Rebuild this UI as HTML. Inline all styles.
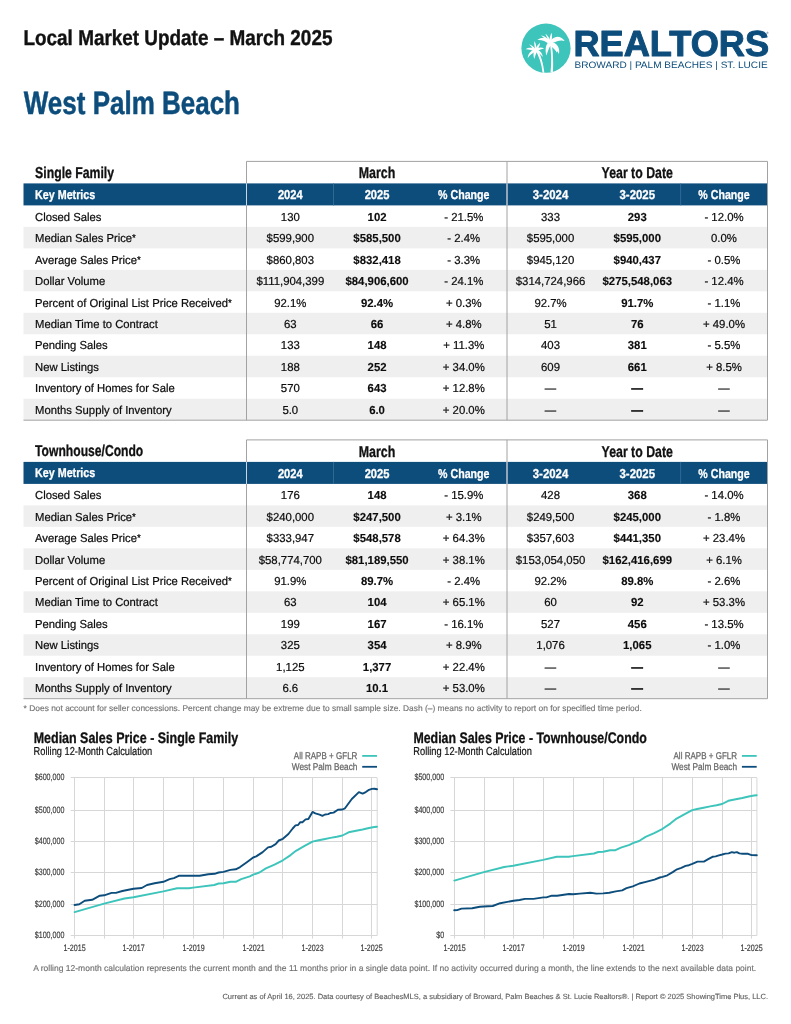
<!DOCTYPE html>
<html lang="en">
<head>
<meta charset="utf-8">
<title>Local Market Update – March 2025 – West Palm Beach</title>
<style>
html,body{margin:0;padding:0;background:#fff}
body{width:791px;height:1024px;overflow:hidden}
svg{display:block;will-change:transform;font-family:"Liberation Sans",sans-serif}
text{white-space:pre;text-rendering:geometricPrecision}
</style>
</head>
<body>
<svg width="791" height="1024" viewBox="0 0 791 1024">
<rect width="791" height="1024" fill="#fff"/>
<text transform="translate(23.50 44.50) scale(0.8755 1)" font-size="21.6" font-weight="700" fill="#111" stroke="#111" stroke-width="0.4" stroke-linejoin="round">Local Market Update – March 2025</text>
<text transform="translate(23.80 114.30) scale(0.8047 1)" font-size="32.3" font-weight="700" fill="#0d4d7c" stroke="#0d4d7c" stroke-width="0.5" stroke-linejoin="round">West Palm Beach</text>
<circle cx="546.0" cy="48.2" r="24.6" fill="#3dc4bb"/>
<clipPath id="lc"><circle cx="546" cy="48.2" r="24.6"/></clipPath><g clip-path="url(#lc)"><g transform="translate(521.0 23.0) scale(0.06321)" fill="#fff"><path d="M466 792C482 650 484 470 452 310L480 300C512 470 512 650 504 792Z"/><path d="M455 305C500 215 610 175 692 286C640 262 560 280 470 330Z"/><path d="M470 300C560 300 625 390 600 492C570 430 520 390 462 350Z"/><path d="M500 330C560 360 580 420 570 470C540 420 500 390 470 360Z"/><path d="M462 290C400 300 370 420 404 516C420 450 440 400 476 340Z"/><path d="M470 300C420 215 330 215 258 268C330 262 390 290 450 330Z"/><path d="M465 300C430 240 370 200 314 196C370 230 410 270 440 320Z"/><path d="M470 300C455 240 420 195 384 172C410 220 425 265 440 310Z"/><path d="M452 300C450 240 462 190 486 154C492 200 490 250 482 305Z"/><path d="M222 425C286 520 326 650 342 792L370 792C354 640 316 500 248 410Z"/><path d="M222 420C215 370 205 330 214 286C235 330 245 370 246 415Z"/><path d="M235 425C200 370 165 345 126 336C160 370 190 400 215 440Z"/><path d="M240 420C180 385 120 385 74 416C130 420 180 435 225 450Z"/><path d="M240 410C170 420 110 480 106 556C140 500 190 470 245 450Z"/><path d="M222 420C190 470 190 520 212 570C225 520 240 480 260 440Z"/><path d="M225 415C290 420 340 470 344 536C310 490 270 465 230 450Z"/><path d="M225 420C270 380 330 375 366 406C320 410 280 425 240 450Z"/><path d="M225 425C245 370 275 335 304 312C295 360 275 400 250 440Z"/></g></g>
<text transform="translate(573.40 55.90) scale(1.0002 1)" font-size="36.2" font-weight="700" fill="#0d4d7c" stroke="#0d4d7c" stroke-width="1.0" stroke-linejoin="round">REALTORS</text>
<text transform="translate(574.50 67.90) scale(1.0826 1)" font-size="9.3" fill="#0d4d7c">BROWARD | PALM BEACHES | ST. LUCIE</text>
<text transform="translate(766.20 33.50)" font-size="3.2" fill="#0d4d7c">®</text>
<rect x="23.5" y="226.88" width="744.0" height="21.48" fill="#efefef"/>
<rect x="23.5" y="269.84" width="744.0" height="21.48" fill="#efefef"/>
<rect x="23.5" y="312.80" width="744.0" height="21.48" fill="#efefef"/>
<rect x="23.5" y="355.76" width="744.0" height="21.48" fill="#efefef"/>
<rect x="23.5" y="398.72" width="744.0" height="21.48" fill="#efefef"/>
<rect x="23.5" y="183.40" width="744.0" height="22.00" fill="#0d4d7c"/>
<line x1="333.5" y1="183.40" x2="333.5" y2="205.40" stroke="#3a7099" stroke-width="0.8"/>
<line x1="680.6" y1="183.40" x2="680.6" y2="205.40" stroke="#3a7099" stroke-width="0.8"/>
<path d="M246.5 420.20V161.40H767.5V420.20M507.0 161.40V420.20M23.5 420.20H767.5" fill="none" stroke="#a2a2a2" stroke-width="1"/>
<line x1="246.5" y1="183.40" x2="246.5" y2="205.40" stroke="#c9d6e0" stroke-width="1"/>
<line x1="507.0" y1="183.40" x2="507.0" y2="205.40" stroke="#c9d6e0" stroke-width="1"/>
<text transform="translate(35.10 177.80) scale(0.7756 1)" font-size="15.8" font-weight="700" fill="#111" stroke="#111" stroke-width="0.3" stroke-linejoin="round">Single Family</text>
<text transform="translate(377.04 178.10) scale(0.7865 1)" font-size="15.8" font-weight="700" text-anchor="middle" fill="#111" stroke="#111" stroke-width="0.3" stroke-linejoin="round">March</text>
<text transform="translate(637.26 178.10) scale(0.7807 1)" font-size="15.8" font-weight="700" text-anchor="middle" fill="#111" stroke="#111" stroke-width="0.3" stroke-linejoin="round">Year to Date</text>
<text transform="translate(35.10 198.80) scale(0.8313 1)" font-size="12.9" font-weight="700" fill="#fff" stroke="#fff" stroke-width="0.3" stroke-linejoin="round">Key Metrics</text>
<text transform="translate(290.30 199.00) scale(0.8642 1)" font-size="12.9" font-weight="700" text-anchor="middle" fill="#fff" stroke="#fff" stroke-width="0.3" stroke-linejoin="round">2024</text>
<text transform="translate(377.04 199.00) scale(0.8642 1)" font-size="12.9" font-weight="700" text-anchor="middle" fill="#fff" stroke="#fff" stroke-width="0.3" stroke-linejoin="round">2025</text>
<text transform="translate(463.78 199.00) scale(0.8243 1)" font-size="12.9" font-weight="700" text-anchor="middle" fill="#fff" stroke="#fff" stroke-width="0.3" stroke-linejoin="round">% Change</text>
<text transform="translate(550.52 199.00) scale(0.8838 1)" font-size="12.9" font-weight="700" text-anchor="middle" fill="#fff" stroke="#fff" stroke-width="0.3" stroke-linejoin="round">3-2024</text>
<text transform="translate(637.26 199.00) scale(0.8838 1)" font-size="12.9" font-weight="700" text-anchor="middle" fill="#fff" stroke="#fff" stroke-width="0.3" stroke-linejoin="round">3-2025</text>
<text transform="translate(724.00 199.00) scale(0.8243 1)" font-size="12.9" font-weight="700" text-anchor="middle" fill="#fff" stroke="#fff" stroke-width="0.3" stroke-linejoin="round">% Change</text>
<text transform="translate(35.00 220.95) scale(0.9720 1)" font-size="11.6" fill="#0c0c0c" stroke="#0c0c0c" stroke-width="0.22" stroke-linejoin="round">Closed Sales</text>
<text transform="translate(290.30 220.95) scale(0.9800 1)" font-size="11.6" text-anchor="middle" fill="#0c0c0c" stroke="#0c0c0c" stroke-width="0.22" stroke-linejoin="round">130</text>
<text transform="translate(377.04 220.95) scale(0.9800 1)" font-size="11.6" font-weight="700" text-anchor="middle" fill="#0c0c0c" stroke="#0c0c0c" stroke-width="0.12" stroke-linejoin="round">102</text>
<text transform="translate(463.78 220.95) scale(0.9800 1)" font-size="11.6" text-anchor="middle" fill="#0c0c0c" stroke="#0c0c0c" stroke-width="0.22" stroke-linejoin="round">- 21.5%</text>
<text transform="translate(550.52 220.95) scale(0.9800 1)" font-size="11.6" text-anchor="middle" fill="#0c0c0c" stroke="#0c0c0c" stroke-width="0.22" stroke-linejoin="round">333</text>
<text transform="translate(637.26 220.95) scale(0.9800 1)" font-size="11.6" font-weight="700" text-anchor="middle" fill="#0c0c0c" stroke="#0c0c0c" stroke-width="0.12" stroke-linejoin="round">293</text>
<text transform="translate(724.00 220.95) scale(0.9800 1)" font-size="11.6" text-anchor="middle" fill="#0c0c0c" stroke="#0c0c0c" stroke-width="0.22" stroke-linejoin="round">- 12.0%</text>
<text transform="translate(35.00 242.35) scale(0.9720 1)" font-size="11.6" fill="#0c0c0c" stroke="#0c0c0c" stroke-width="0.22" stroke-linejoin="round">Median Sales Price<tspan font-size="10.0" dy="-0.9">*</tspan></text>
<text transform="translate(290.30 242.35) scale(0.9800 1)" font-size="11.6" text-anchor="middle" fill="#0c0c0c" stroke="#0c0c0c" stroke-width="0.22" stroke-linejoin="round">$599,900</text>
<text transform="translate(377.04 242.35) scale(0.9800 1)" font-size="11.6" font-weight="700" text-anchor="middle" fill="#0c0c0c" stroke="#0c0c0c" stroke-width="0.12" stroke-linejoin="round">$585,500</text>
<text transform="translate(463.78 242.35) scale(0.9800 1)" font-size="11.6" text-anchor="middle" fill="#0c0c0c" stroke="#0c0c0c" stroke-width="0.22" stroke-linejoin="round">- 2.4%</text>
<text transform="translate(550.52 242.35) scale(0.9800 1)" font-size="11.6" text-anchor="middle" fill="#0c0c0c" stroke="#0c0c0c" stroke-width="0.22" stroke-linejoin="round">$595,000</text>
<text transform="translate(637.26 242.35) scale(0.9800 1)" font-size="11.6" font-weight="700" text-anchor="middle" fill="#0c0c0c" stroke="#0c0c0c" stroke-width="0.12" stroke-linejoin="round">$595,000</text>
<text transform="translate(724.00 242.35) scale(0.9800 1)" font-size="11.6" text-anchor="middle" fill="#0c0c0c" stroke="#0c0c0c" stroke-width="0.22" stroke-linejoin="round">0.0%</text>
<text transform="translate(35.00 263.75) scale(0.9720 1)" font-size="11.6" fill="#0c0c0c" stroke="#0c0c0c" stroke-width="0.22" stroke-linejoin="round">Average Sales Price<tspan font-size="10.0" dy="-0.9">*</tspan></text>
<text transform="translate(290.30 263.75) scale(0.9800 1)" font-size="11.6" text-anchor="middle" fill="#0c0c0c" stroke="#0c0c0c" stroke-width="0.22" stroke-linejoin="round">$860,803</text>
<text transform="translate(377.04 263.75) scale(0.9800 1)" font-size="11.6" font-weight="700" text-anchor="middle" fill="#0c0c0c" stroke="#0c0c0c" stroke-width="0.12" stroke-linejoin="round">$832,418</text>
<text transform="translate(463.78 263.75) scale(0.9800 1)" font-size="11.6" text-anchor="middle" fill="#0c0c0c" stroke="#0c0c0c" stroke-width="0.22" stroke-linejoin="round">- 3.3%</text>
<text transform="translate(550.52 263.75) scale(0.9800 1)" font-size="11.6" text-anchor="middle" fill="#0c0c0c" stroke="#0c0c0c" stroke-width="0.22" stroke-linejoin="round">$945,120</text>
<text transform="translate(637.26 263.75) scale(0.9800 1)" font-size="11.6" font-weight="700" text-anchor="middle" fill="#0c0c0c" stroke="#0c0c0c" stroke-width="0.12" stroke-linejoin="round">$940,437</text>
<text transform="translate(724.00 263.75) scale(0.9800 1)" font-size="11.6" text-anchor="middle" fill="#0c0c0c" stroke="#0c0c0c" stroke-width="0.22" stroke-linejoin="round">- 0.5%</text>
<text transform="translate(35.00 285.15) scale(0.9720 1)" font-size="11.6" fill="#0c0c0c" stroke="#0c0c0c" stroke-width="0.22" stroke-linejoin="round">Dollar Volume</text>
<text transform="translate(290.30 285.15) scale(0.9800 1)" font-size="11.6" text-anchor="middle" fill="#0c0c0c" stroke="#0c0c0c" stroke-width="0.22" stroke-linejoin="round">$111,904,399</text>
<text transform="translate(377.04 285.15) scale(0.9800 1)" font-size="11.6" font-weight="700" text-anchor="middle" fill="#0c0c0c" stroke="#0c0c0c" stroke-width="0.12" stroke-linejoin="round">$84,906,600</text>
<text transform="translate(463.78 285.15) scale(0.9800 1)" font-size="11.6" text-anchor="middle" fill="#0c0c0c" stroke="#0c0c0c" stroke-width="0.22" stroke-linejoin="round">- 24.1%</text>
<text transform="translate(550.52 285.15) scale(0.9800 1)" font-size="11.6" text-anchor="middle" fill="#0c0c0c" stroke="#0c0c0c" stroke-width="0.22" stroke-linejoin="round">$314,724,966</text>
<text transform="translate(637.26 285.15) scale(0.9800 1)" font-size="11.6" font-weight="700" text-anchor="middle" fill="#0c0c0c" stroke="#0c0c0c" stroke-width="0.12" stroke-linejoin="round">$275,548,063</text>
<text transform="translate(724.00 285.15) scale(0.9800 1)" font-size="11.6" text-anchor="middle" fill="#0c0c0c" stroke="#0c0c0c" stroke-width="0.22" stroke-linejoin="round">- 12.4%</text>
<text transform="translate(35.00 306.55) scale(0.9720 1)" font-size="11.6" fill="#0c0c0c" stroke="#0c0c0c" stroke-width="0.22" stroke-linejoin="round">Percent of Original List Price Received<tspan font-size="10.0" dy="-0.9">*</tspan></text>
<text transform="translate(290.30 306.55) scale(0.9800 1)" font-size="11.6" text-anchor="middle" fill="#0c0c0c" stroke="#0c0c0c" stroke-width="0.22" stroke-linejoin="round">92.1%</text>
<text transform="translate(377.04 306.55) scale(0.9800 1)" font-size="11.6" font-weight="700" text-anchor="middle" fill="#0c0c0c" stroke="#0c0c0c" stroke-width="0.12" stroke-linejoin="round">92.4%</text>
<text transform="translate(463.78 306.55) scale(0.9800 1)" font-size="11.6" text-anchor="middle" fill="#0c0c0c" stroke="#0c0c0c" stroke-width="0.22" stroke-linejoin="round">+ 0.3%</text>
<text transform="translate(550.52 306.55) scale(0.9800 1)" font-size="11.6" text-anchor="middle" fill="#0c0c0c" stroke="#0c0c0c" stroke-width="0.22" stroke-linejoin="round">92.7%</text>
<text transform="translate(637.26 306.55) scale(0.9800 1)" font-size="11.6" font-weight="700" text-anchor="middle" fill="#0c0c0c" stroke="#0c0c0c" stroke-width="0.12" stroke-linejoin="round">91.7%</text>
<text transform="translate(724.00 306.55) scale(0.9800 1)" font-size="11.6" text-anchor="middle" fill="#0c0c0c" stroke="#0c0c0c" stroke-width="0.22" stroke-linejoin="round">- 1.1%</text>
<text transform="translate(35.00 327.95) scale(0.9720 1)" font-size="11.6" fill="#0c0c0c" stroke="#0c0c0c" stroke-width="0.22" stroke-linejoin="round">Median Time to Contract</text>
<text transform="translate(290.30 327.95) scale(0.9800 1)" font-size="11.6" text-anchor="middle" fill="#0c0c0c" stroke="#0c0c0c" stroke-width="0.22" stroke-linejoin="round">63</text>
<text transform="translate(377.04 327.95) scale(0.9800 1)" font-size="11.6" font-weight="700" text-anchor="middle" fill="#0c0c0c" stroke="#0c0c0c" stroke-width="0.12" stroke-linejoin="round">66</text>
<text transform="translate(463.78 327.95) scale(0.9800 1)" font-size="11.6" text-anchor="middle" fill="#0c0c0c" stroke="#0c0c0c" stroke-width="0.22" stroke-linejoin="round">+ 4.8%</text>
<text transform="translate(550.52 327.95) scale(0.9800 1)" font-size="11.6" text-anchor="middle" fill="#0c0c0c" stroke="#0c0c0c" stroke-width="0.22" stroke-linejoin="round">51</text>
<text transform="translate(637.26 327.95) scale(0.9800 1)" font-size="11.6" font-weight="700" text-anchor="middle" fill="#0c0c0c" stroke="#0c0c0c" stroke-width="0.12" stroke-linejoin="round">76</text>
<text transform="translate(724.00 327.95) scale(0.9800 1)" font-size="11.6" text-anchor="middle" fill="#0c0c0c" stroke="#0c0c0c" stroke-width="0.22" stroke-linejoin="round">+ 49.0%</text>
<text transform="translate(35.00 349.35) scale(0.9720 1)" font-size="11.6" fill="#0c0c0c" stroke="#0c0c0c" stroke-width="0.22" stroke-linejoin="round">Pending Sales</text>
<text transform="translate(290.30 349.35) scale(0.9800 1)" font-size="11.6" text-anchor="middle" fill="#0c0c0c" stroke="#0c0c0c" stroke-width="0.22" stroke-linejoin="round">133</text>
<text transform="translate(377.04 349.35) scale(0.9800 1)" font-size="11.6" font-weight="700" text-anchor="middle" fill="#0c0c0c" stroke="#0c0c0c" stroke-width="0.12" stroke-linejoin="round">148</text>
<text transform="translate(463.78 349.35) scale(0.9800 1)" font-size="11.6" text-anchor="middle" fill="#0c0c0c" stroke="#0c0c0c" stroke-width="0.22" stroke-linejoin="round">+ 11.3%</text>
<text transform="translate(550.52 349.35) scale(0.9800 1)" font-size="11.6" text-anchor="middle" fill="#0c0c0c" stroke="#0c0c0c" stroke-width="0.22" stroke-linejoin="round">403</text>
<text transform="translate(637.26 349.35) scale(0.9800 1)" font-size="11.6" font-weight="700" text-anchor="middle" fill="#0c0c0c" stroke="#0c0c0c" stroke-width="0.12" stroke-linejoin="round">381</text>
<text transform="translate(724.00 349.35) scale(0.9800 1)" font-size="11.6" text-anchor="middle" fill="#0c0c0c" stroke="#0c0c0c" stroke-width="0.22" stroke-linejoin="round">- 5.5%</text>
<text transform="translate(35.00 370.75) scale(0.9720 1)" font-size="11.6" fill="#0c0c0c" stroke="#0c0c0c" stroke-width="0.22" stroke-linejoin="round">New Listings</text>
<text transform="translate(290.30 370.75) scale(0.9800 1)" font-size="11.6" text-anchor="middle" fill="#0c0c0c" stroke="#0c0c0c" stroke-width="0.22" stroke-linejoin="round">188</text>
<text transform="translate(377.04 370.75) scale(0.9800 1)" font-size="11.6" font-weight="700" text-anchor="middle" fill="#0c0c0c" stroke="#0c0c0c" stroke-width="0.12" stroke-linejoin="round">252</text>
<text transform="translate(463.78 370.75) scale(0.9800 1)" font-size="11.6" text-anchor="middle" fill="#0c0c0c" stroke="#0c0c0c" stroke-width="0.22" stroke-linejoin="round">+ 34.0%</text>
<text transform="translate(550.52 370.75) scale(0.9800 1)" font-size="11.6" text-anchor="middle" fill="#0c0c0c" stroke="#0c0c0c" stroke-width="0.22" stroke-linejoin="round">609</text>
<text transform="translate(637.26 370.75) scale(0.9800 1)" font-size="11.6" font-weight="700" text-anchor="middle" fill="#0c0c0c" stroke="#0c0c0c" stroke-width="0.12" stroke-linejoin="round">661</text>
<text transform="translate(724.00 370.75) scale(0.9800 1)" font-size="11.6" text-anchor="middle" fill="#0c0c0c" stroke="#0c0c0c" stroke-width="0.22" stroke-linejoin="round">+ 8.5%</text>
<text transform="translate(35.00 392.15) scale(0.9720 1)" font-size="11.6" fill="#0c0c0c" stroke="#0c0c0c" stroke-width="0.22" stroke-linejoin="round">Inventory of Homes for Sale</text>
<text transform="translate(290.30 392.15) scale(0.9800 1)" font-size="11.6" text-anchor="middle" fill="#0c0c0c" stroke="#0c0c0c" stroke-width="0.22" stroke-linejoin="round">570</text>
<text transform="translate(377.04 392.15) scale(0.9800 1)" font-size="11.6" font-weight="700" text-anchor="middle" fill="#0c0c0c" stroke="#0c0c0c" stroke-width="0.12" stroke-linejoin="round">643</text>
<text transform="translate(463.78 392.15) scale(0.9800 1)" font-size="11.6" text-anchor="middle" fill="#0c0c0c" stroke="#0c0c0c" stroke-width="0.22" stroke-linejoin="round">+ 12.8%</text>
<text transform="translate(550.52 392.15) scale(0.9800 1)" font-size="11.6" text-anchor="middle" fill="#0c0c0c" stroke="#0c0c0c" stroke-width="0.22" stroke-linejoin="round">—</text>
<text transform="translate(637.26 392.15) scale(0.9800 1)" font-size="11.6" font-weight="700" text-anchor="middle" fill="#0c0c0c" stroke="#0c0c0c" stroke-width="0.55" stroke-linejoin="round">—</text>
<text transform="translate(724.00 392.15) scale(0.9800 1)" font-size="11.6" text-anchor="middle" fill="#0c0c0c" stroke="#0c0c0c" stroke-width="0.22" stroke-linejoin="round">—</text>
<text transform="translate(35.00 413.55) scale(0.9720 1)" font-size="11.6" fill="#0c0c0c" stroke="#0c0c0c" stroke-width="0.22" stroke-linejoin="round">Months Supply of Inventory</text>
<text transform="translate(290.30 413.55) scale(0.9800 1)" font-size="11.6" text-anchor="middle" fill="#0c0c0c" stroke="#0c0c0c" stroke-width="0.22" stroke-linejoin="round">5.0</text>
<text transform="translate(377.04 413.55) scale(0.9800 1)" font-size="11.6" font-weight="700" text-anchor="middle" fill="#0c0c0c" stroke="#0c0c0c" stroke-width="0.12" stroke-linejoin="round">6.0</text>
<text transform="translate(463.78 413.55) scale(0.9800 1)" font-size="11.6" text-anchor="middle" fill="#0c0c0c" stroke="#0c0c0c" stroke-width="0.22" stroke-linejoin="round">+ 20.0%</text>
<text transform="translate(550.52 413.55) scale(0.9800 1)" font-size="11.6" text-anchor="middle" fill="#0c0c0c" stroke="#0c0c0c" stroke-width="0.22" stroke-linejoin="round">—</text>
<text transform="translate(637.26 413.55) scale(0.9800 1)" font-size="11.6" font-weight="700" text-anchor="middle" fill="#0c0c0c" stroke="#0c0c0c" stroke-width="0.55" stroke-linejoin="round">—</text>
<text transform="translate(724.00 413.55) scale(0.9800 1)" font-size="11.6" text-anchor="middle" fill="#0c0c0c" stroke="#0c0c0c" stroke-width="0.22" stroke-linejoin="round">—</text>
<rect x="23.5" y="505.38" width="744.0" height="21.48" fill="#efefef"/>
<rect x="23.5" y="548.34" width="744.0" height="21.48" fill="#efefef"/>
<rect x="23.5" y="591.30" width="744.0" height="21.48" fill="#efefef"/>
<rect x="23.5" y="634.26" width="744.0" height="21.48" fill="#efefef"/>
<rect x="23.5" y="677.22" width="744.0" height="21.48" fill="#efefef"/>
<rect x="23.5" y="461.90" width="744.0" height="22.00" fill="#0d4d7c"/>
<line x1="333.5" y1="461.90" x2="333.5" y2="483.90" stroke="#3a7099" stroke-width="0.8"/>
<line x1="680.6" y1="461.90" x2="680.6" y2="483.90" stroke="#3a7099" stroke-width="0.8"/>
<path d="M246.5 698.70V439.90H767.5V698.70M507.0 439.90V698.70M23.5 698.70H767.5" fill="none" stroke="#a2a2a2" stroke-width="1"/>
<line x1="246.5" y1="461.90" x2="246.5" y2="483.90" stroke="#c9d6e0" stroke-width="1"/>
<line x1="507.0" y1="461.90" x2="507.0" y2="483.90" stroke="#c9d6e0" stroke-width="1"/>
<text transform="translate(35.10 456.30) scale(0.7673 1)" font-size="15.8" font-weight="700" fill="#111" stroke="#111" stroke-width="0.3" stroke-linejoin="round">Townhouse/Condo</text>
<text transform="translate(377.04 456.60) scale(0.7865 1)" font-size="15.8" font-weight="700" text-anchor="middle" fill="#111" stroke="#111" stroke-width="0.3" stroke-linejoin="round">March</text>
<text transform="translate(637.26 456.60) scale(0.7807 1)" font-size="15.8" font-weight="700" text-anchor="middle" fill="#111" stroke="#111" stroke-width="0.3" stroke-linejoin="round">Year to Date</text>
<text transform="translate(35.10 477.30) scale(0.8313 1)" font-size="12.9" font-weight="700" fill="#fff" stroke="#fff" stroke-width="0.3" stroke-linejoin="round">Key Metrics</text>
<text transform="translate(290.30 477.50) scale(0.8642 1)" font-size="12.9" font-weight="700" text-anchor="middle" fill="#fff" stroke="#fff" stroke-width="0.3" stroke-linejoin="round">2024</text>
<text transform="translate(377.04 477.50) scale(0.8642 1)" font-size="12.9" font-weight="700" text-anchor="middle" fill="#fff" stroke="#fff" stroke-width="0.3" stroke-linejoin="round">2025</text>
<text transform="translate(463.78 477.50) scale(0.8243 1)" font-size="12.9" font-weight="700" text-anchor="middle" fill="#fff" stroke="#fff" stroke-width="0.3" stroke-linejoin="round">% Change</text>
<text transform="translate(550.52 477.50) scale(0.8838 1)" font-size="12.9" font-weight="700" text-anchor="middle" fill="#fff" stroke="#fff" stroke-width="0.3" stroke-linejoin="round">3-2024</text>
<text transform="translate(637.26 477.50) scale(0.8838 1)" font-size="12.9" font-weight="700" text-anchor="middle" fill="#fff" stroke="#fff" stroke-width="0.3" stroke-linejoin="round">3-2025</text>
<text transform="translate(724.00 477.50) scale(0.8243 1)" font-size="12.9" font-weight="700" text-anchor="middle" fill="#fff" stroke="#fff" stroke-width="0.3" stroke-linejoin="round">% Change</text>
<text transform="translate(35.00 499.45) scale(0.9720 1)" font-size="11.6" fill="#0c0c0c" stroke="#0c0c0c" stroke-width="0.22" stroke-linejoin="round">Closed Sales</text>
<text transform="translate(290.30 499.45) scale(0.9800 1)" font-size="11.6" text-anchor="middle" fill="#0c0c0c" stroke="#0c0c0c" stroke-width="0.22" stroke-linejoin="round">176</text>
<text transform="translate(377.04 499.45) scale(0.9800 1)" font-size="11.6" font-weight="700" text-anchor="middle" fill="#0c0c0c" stroke="#0c0c0c" stroke-width="0.12" stroke-linejoin="round">148</text>
<text transform="translate(463.78 499.45) scale(0.9800 1)" font-size="11.6" text-anchor="middle" fill="#0c0c0c" stroke="#0c0c0c" stroke-width="0.22" stroke-linejoin="round">- 15.9%</text>
<text transform="translate(550.52 499.45) scale(0.9800 1)" font-size="11.6" text-anchor="middle" fill="#0c0c0c" stroke="#0c0c0c" stroke-width="0.22" stroke-linejoin="round">428</text>
<text transform="translate(637.26 499.45) scale(0.9800 1)" font-size="11.6" font-weight="700" text-anchor="middle" fill="#0c0c0c" stroke="#0c0c0c" stroke-width="0.12" stroke-linejoin="round">368</text>
<text transform="translate(724.00 499.45) scale(0.9800 1)" font-size="11.6" text-anchor="middle" fill="#0c0c0c" stroke="#0c0c0c" stroke-width="0.22" stroke-linejoin="round">- 14.0%</text>
<text transform="translate(35.00 520.85) scale(0.9720 1)" font-size="11.6" fill="#0c0c0c" stroke="#0c0c0c" stroke-width="0.22" stroke-linejoin="round">Median Sales Price<tspan font-size="10.0" dy="-0.9">*</tspan></text>
<text transform="translate(290.30 520.85) scale(0.9800 1)" font-size="11.6" text-anchor="middle" fill="#0c0c0c" stroke="#0c0c0c" stroke-width="0.22" stroke-linejoin="round">$240,000</text>
<text transform="translate(377.04 520.85) scale(0.9800 1)" font-size="11.6" font-weight="700" text-anchor="middle" fill="#0c0c0c" stroke="#0c0c0c" stroke-width="0.12" stroke-linejoin="round">$247,500</text>
<text transform="translate(463.78 520.85) scale(0.9800 1)" font-size="11.6" text-anchor="middle" fill="#0c0c0c" stroke="#0c0c0c" stroke-width="0.22" stroke-linejoin="round">+ 3.1%</text>
<text transform="translate(550.52 520.85) scale(0.9800 1)" font-size="11.6" text-anchor="middle" fill="#0c0c0c" stroke="#0c0c0c" stroke-width="0.22" stroke-linejoin="round">$249,500</text>
<text transform="translate(637.26 520.85) scale(0.9800 1)" font-size="11.6" font-weight="700" text-anchor="middle" fill="#0c0c0c" stroke="#0c0c0c" stroke-width="0.12" stroke-linejoin="round">$245,000</text>
<text transform="translate(724.00 520.85) scale(0.9800 1)" font-size="11.6" text-anchor="middle" fill="#0c0c0c" stroke="#0c0c0c" stroke-width="0.22" stroke-linejoin="round">- 1.8%</text>
<text transform="translate(35.00 542.25) scale(0.9720 1)" font-size="11.6" fill="#0c0c0c" stroke="#0c0c0c" stroke-width="0.22" stroke-linejoin="round">Average Sales Price<tspan font-size="10.0" dy="-0.9">*</tspan></text>
<text transform="translate(290.30 542.25) scale(0.9800 1)" font-size="11.6" text-anchor="middle" fill="#0c0c0c" stroke="#0c0c0c" stroke-width="0.22" stroke-linejoin="round">$333,947</text>
<text transform="translate(377.04 542.25) scale(0.9800 1)" font-size="11.6" font-weight="700" text-anchor="middle" fill="#0c0c0c" stroke="#0c0c0c" stroke-width="0.12" stroke-linejoin="round">$548,578</text>
<text transform="translate(463.78 542.25) scale(0.9800 1)" font-size="11.6" text-anchor="middle" fill="#0c0c0c" stroke="#0c0c0c" stroke-width="0.22" stroke-linejoin="round">+ 64.3%</text>
<text transform="translate(550.52 542.25) scale(0.9800 1)" font-size="11.6" text-anchor="middle" fill="#0c0c0c" stroke="#0c0c0c" stroke-width="0.22" stroke-linejoin="round">$357,603</text>
<text transform="translate(637.26 542.25) scale(0.9800 1)" font-size="11.6" font-weight="700" text-anchor="middle" fill="#0c0c0c" stroke="#0c0c0c" stroke-width="0.12" stroke-linejoin="round">$441,350</text>
<text transform="translate(724.00 542.25) scale(0.9800 1)" font-size="11.6" text-anchor="middle" fill="#0c0c0c" stroke="#0c0c0c" stroke-width="0.22" stroke-linejoin="round">+ 23.4%</text>
<text transform="translate(35.00 563.65) scale(0.9720 1)" font-size="11.6" fill="#0c0c0c" stroke="#0c0c0c" stroke-width="0.22" stroke-linejoin="round">Dollar Volume</text>
<text transform="translate(290.30 563.65) scale(0.9800 1)" font-size="11.6" text-anchor="middle" fill="#0c0c0c" stroke="#0c0c0c" stroke-width="0.22" stroke-linejoin="round">$58,774,700</text>
<text transform="translate(377.04 563.65) scale(0.9800 1)" font-size="11.6" font-weight="700" text-anchor="middle" fill="#0c0c0c" stroke="#0c0c0c" stroke-width="0.12" stroke-linejoin="round">$81,189,550</text>
<text transform="translate(463.78 563.65) scale(0.9800 1)" font-size="11.6" text-anchor="middle" fill="#0c0c0c" stroke="#0c0c0c" stroke-width="0.22" stroke-linejoin="round">+ 38.1%</text>
<text transform="translate(550.52 563.65) scale(0.9800 1)" font-size="11.6" text-anchor="middle" fill="#0c0c0c" stroke="#0c0c0c" stroke-width="0.22" stroke-linejoin="round">$153,054,050</text>
<text transform="translate(637.26 563.65) scale(0.9800 1)" font-size="11.6" font-weight="700" text-anchor="middle" fill="#0c0c0c" stroke="#0c0c0c" stroke-width="0.12" stroke-linejoin="round">$162,416,699</text>
<text transform="translate(724.00 563.65) scale(0.9800 1)" font-size="11.6" text-anchor="middle" fill="#0c0c0c" stroke="#0c0c0c" stroke-width="0.22" stroke-linejoin="round">+ 6.1%</text>
<text transform="translate(35.00 585.05) scale(0.9720 1)" font-size="11.6" fill="#0c0c0c" stroke="#0c0c0c" stroke-width="0.22" stroke-linejoin="round">Percent of Original List Price Received<tspan font-size="10.0" dy="-0.9">*</tspan></text>
<text transform="translate(290.30 585.05) scale(0.9800 1)" font-size="11.6" text-anchor="middle" fill="#0c0c0c" stroke="#0c0c0c" stroke-width="0.22" stroke-linejoin="round">91.9%</text>
<text transform="translate(377.04 585.05) scale(0.9800 1)" font-size="11.6" font-weight="700" text-anchor="middle" fill="#0c0c0c" stroke="#0c0c0c" stroke-width="0.12" stroke-linejoin="round">89.7%</text>
<text transform="translate(463.78 585.05) scale(0.9800 1)" font-size="11.6" text-anchor="middle" fill="#0c0c0c" stroke="#0c0c0c" stroke-width="0.22" stroke-linejoin="round">- 2.4%</text>
<text transform="translate(550.52 585.05) scale(0.9800 1)" font-size="11.6" text-anchor="middle" fill="#0c0c0c" stroke="#0c0c0c" stroke-width="0.22" stroke-linejoin="round">92.2%</text>
<text transform="translate(637.26 585.05) scale(0.9800 1)" font-size="11.6" font-weight="700" text-anchor="middle" fill="#0c0c0c" stroke="#0c0c0c" stroke-width="0.12" stroke-linejoin="round">89.8%</text>
<text transform="translate(724.00 585.05) scale(0.9800 1)" font-size="11.6" text-anchor="middle" fill="#0c0c0c" stroke="#0c0c0c" stroke-width="0.22" stroke-linejoin="round">- 2.6%</text>
<text transform="translate(35.00 606.45) scale(0.9720 1)" font-size="11.6" fill="#0c0c0c" stroke="#0c0c0c" stroke-width="0.22" stroke-linejoin="round">Median Time to Contract</text>
<text transform="translate(290.30 606.45) scale(0.9800 1)" font-size="11.6" text-anchor="middle" fill="#0c0c0c" stroke="#0c0c0c" stroke-width="0.22" stroke-linejoin="round">63</text>
<text transform="translate(377.04 606.45) scale(0.9800 1)" font-size="11.6" font-weight="700" text-anchor="middle" fill="#0c0c0c" stroke="#0c0c0c" stroke-width="0.12" stroke-linejoin="round">104</text>
<text transform="translate(463.78 606.45) scale(0.9800 1)" font-size="11.6" text-anchor="middle" fill="#0c0c0c" stroke="#0c0c0c" stroke-width="0.22" stroke-linejoin="round">+ 65.1%</text>
<text transform="translate(550.52 606.45) scale(0.9800 1)" font-size="11.6" text-anchor="middle" fill="#0c0c0c" stroke="#0c0c0c" stroke-width="0.22" stroke-linejoin="round">60</text>
<text transform="translate(637.26 606.45) scale(0.9800 1)" font-size="11.6" font-weight="700" text-anchor="middle" fill="#0c0c0c" stroke="#0c0c0c" stroke-width="0.12" stroke-linejoin="round">92</text>
<text transform="translate(724.00 606.45) scale(0.9800 1)" font-size="11.6" text-anchor="middle" fill="#0c0c0c" stroke="#0c0c0c" stroke-width="0.22" stroke-linejoin="round">+ 53.3%</text>
<text transform="translate(35.00 627.85) scale(0.9720 1)" font-size="11.6" fill="#0c0c0c" stroke="#0c0c0c" stroke-width="0.22" stroke-linejoin="round">Pending Sales</text>
<text transform="translate(290.30 627.85) scale(0.9800 1)" font-size="11.6" text-anchor="middle" fill="#0c0c0c" stroke="#0c0c0c" stroke-width="0.22" stroke-linejoin="round">199</text>
<text transform="translate(377.04 627.85) scale(0.9800 1)" font-size="11.6" font-weight="700" text-anchor="middle" fill="#0c0c0c" stroke="#0c0c0c" stroke-width="0.12" stroke-linejoin="round">167</text>
<text transform="translate(463.78 627.85) scale(0.9800 1)" font-size="11.6" text-anchor="middle" fill="#0c0c0c" stroke="#0c0c0c" stroke-width="0.22" stroke-linejoin="round">- 16.1%</text>
<text transform="translate(550.52 627.85) scale(0.9800 1)" font-size="11.6" text-anchor="middle" fill="#0c0c0c" stroke="#0c0c0c" stroke-width="0.22" stroke-linejoin="round">527</text>
<text transform="translate(637.26 627.85) scale(0.9800 1)" font-size="11.6" font-weight="700" text-anchor="middle" fill="#0c0c0c" stroke="#0c0c0c" stroke-width="0.12" stroke-linejoin="round">456</text>
<text transform="translate(724.00 627.85) scale(0.9800 1)" font-size="11.6" text-anchor="middle" fill="#0c0c0c" stroke="#0c0c0c" stroke-width="0.22" stroke-linejoin="round">- 13.5%</text>
<text transform="translate(35.00 649.25) scale(0.9720 1)" font-size="11.6" fill="#0c0c0c" stroke="#0c0c0c" stroke-width="0.22" stroke-linejoin="round">New Listings</text>
<text transform="translate(290.30 649.25) scale(0.9800 1)" font-size="11.6" text-anchor="middle" fill="#0c0c0c" stroke="#0c0c0c" stroke-width="0.22" stroke-linejoin="round">325</text>
<text transform="translate(377.04 649.25) scale(0.9800 1)" font-size="11.6" font-weight="700" text-anchor="middle" fill="#0c0c0c" stroke="#0c0c0c" stroke-width="0.12" stroke-linejoin="round">354</text>
<text transform="translate(463.78 649.25) scale(0.9800 1)" font-size="11.6" text-anchor="middle" fill="#0c0c0c" stroke="#0c0c0c" stroke-width="0.22" stroke-linejoin="round">+ 8.9%</text>
<text transform="translate(550.52 649.25) scale(0.9800 1)" font-size="11.6" text-anchor="middle" fill="#0c0c0c" stroke="#0c0c0c" stroke-width="0.22" stroke-linejoin="round">1,076</text>
<text transform="translate(637.26 649.25) scale(0.9800 1)" font-size="11.6" font-weight="700" text-anchor="middle" fill="#0c0c0c" stroke="#0c0c0c" stroke-width="0.12" stroke-linejoin="round">1,065</text>
<text transform="translate(724.00 649.25) scale(0.9800 1)" font-size="11.6" text-anchor="middle" fill="#0c0c0c" stroke="#0c0c0c" stroke-width="0.22" stroke-linejoin="round">- 1.0%</text>
<text transform="translate(35.00 670.65) scale(0.9720 1)" font-size="11.6" fill="#0c0c0c" stroke="#0c0c0c" stroke-width="0.22" stroke-linejoin="round">Inventory of Homes for Sale</text>
<text transform="translate(290.30 670.65) scale(0.9800 1)" font-size="11.6" text-anchor="middle" fill="#0c0c0c" stroke="#0c0c0c" stroke-width="0.22" stroke-linejoin="round">1,125</text>
<text transform="translate(377.04 670.65) scale(0.9800 1)" font-size="11.6" font-weight="700" text-anchor="middle" fill="#0c0c0c" stroke="#0c0c0c" stroke-width="0.12" stroke-linejoin="round">1,377</text>
<text transform="translate(463.78 670.65) scale(0.9800 1)" font-size="11.6" text-anchor="middle" fill="#0c0c0c" stroke="#0c0c0c" stroke-width="0.22" stroke-linejoin="round">+ 22.4%</text>
<text transform="translate(550.52 670.65) scale(0.9800 1)" font-size="11.6" text-anchor="middle" fill="#0c0c0c" stroke="#0c0c0c" stroke-width="0.22" stroke-linejoin="round">—</text>
<text transform="translate(637.26 670.65) scale(0.9800 1)" font-size="11.6" font-weight="700" text-anchor="middle" fill="#0c0c0c" stroke="#0c0c0c" stroke-width="0.55" stroke-linejoin="round">—</text>
<text transform="translate(724.00 670.65) scale(0.9800 1)" font-size="11.6" text-anchor="middle" fill="#0c0c0c" stroke="#0c0c0c" stroke-width="0.22" stroke-linejoin="round">—</text>
<text transform="translate(35.00 692.05) scale(0.9720 1)" font-size="11.6" fill="#0c0c0c" stroke="#0c0c0c" stroke-width="0.22" stroke-linejoin="round">Months Supply of Inventory</text>
<text transform="translate(290.30 692.05) scale(0.9800 1)" font-size="11.6" text-anchor="middle" fill="#0c0c0c" stroke="#0c0c0c" stroke-width="0.22" stroke-linejoin="round">6.6</text>
<text transform="translate(377.04 692.05) scale(0.9800 1)" font-size="11.6" font-weight="700" text-anchor="middle" fill="#0c0c0c" stroke="#0c0c0c" stroke-width="0.12" stroke-linejoin="round">10.1</text>
<text transform="translate(463.78 692.05) scale(0.9800 1)" font-size="11.6" text-anchor="middle" fill="#0c0c0c" stroke="#0c0c0c" stroke-width="0.22" stroke-linejoin="round">+ 53.0%</text>
<text transform="translate(550.52 692.05) scale(0.9800 1)" font-size="11.6" text-anchor="middle" fill="#0c0c0c" stroke="#0c0c0c" stroke-width="0.22" stroke-linejoin="round">—</text>
<text transform="translate(637.26 692.05) scale(0.9800 1)" font-size="11.6" font-weight="700" text-anchor="middle" fill="#0c0c0c" stroke="#0c0c0c" stroke-width="0.55" stroke-linejoin="round">—</text>
<text transform="translate(724.00 692.05) scale(0.9800 1)" font-size="11.6" text-anchor="middle" fill="#0c0c0c" stroke="#0c0c0c" stroke-width="0.22" stroke-linejoin="round">—</text>
<text transform="translate(23.60 710.90) scale(1.0037 1)" font-size="8.4" fill="#757575" stroke="#757575" stroke-width="0.15" stroke-linejoin="round">* Does not account for seller concessions. Percent change may be extreme due to small sample size. Dash (–) means no activity to report on for specified time period.</text>
<path d="M70.70 777.50H377.20M70.70 810.50H377.20M70.70 841.50H377.20M70.70 872.50H377.20M70.70 904.50H377.20M70.70 935.50H377.20M74.50 777.90V938.60M104.50 777.90V938.60M133.50 777.90V938.60M163.50 777.90V938.60M193.50 777.90V938.60M223.50 777.90V938.60M253.50 777.90V938.60M282.50 777.90V938.60M312.50 777.90V938.60M342.50 777.90V938.60M371.50 777.90V938.60M377.20 777.90V935.60" fill="none" stroke="#d7d7d7" stroke-width="1"/>
<text transform="translate(33.70 743.20) scale(0.8152 1)" font-size="15.3" font-weight="700" fill="#111" stroke="#111" stroke-width="0.3" stroke-linejoin="round">Median Sales Price - Single Family</text>
<text transform="translate(33.60 755.00) scale(0.8067 1)" font-size="11.5" fill="#111" stroke="#111" stroke-width="0.2" stroke-linejoin="round">Rolling 12-Month Calculation</text>
<text transform="translate(357.40 758.90) scale(0.8195 1)" font-size="9.8" text-anchor="end" fill="#666" stroke="#666" stroke-width="0.25" stroke-linejoin="round">All RAPB + GFLR</text>
<text transform="translate(357.40 769.60) scale(0.8455 1)" font-size="9.8" text-anchor="end" fill="#666" stroke="#666" stroke-width="0.25" stroke-linejoin="round">West Palm Beach</text>
<path d="M362.2 755.9H377.0" stroke="#3dc4bb" stroke-width="1.8"/>
<path d="M362.2 766.8H377.0" stroke="#0d4d7c" stroke-width="1.8"/>
<text transform="translate(64.40 780.30) scale(0.7650 1)" font-size="9.3" text-anchor="end" fill="#3c3c3c" stroke="#3c3c3c" stroke-width="0.18" stroke-linejoin="round">$600,000</text>
<text transform="translate(64.40 813.30) scale(0.7650 1)" font-size="9.3" text-anchor="end" fill="#3c3c3c" stroke="#3c3c3c" stroke-width="0.18" stroke-linejoin="round">$500,000</text>
<text transform="translate(64.40 844.30) scale(0.7650 1)" font-size="9.3" text-anchor="end" fill="#3c3c3c" stroke="#3c3c3c" stroke-width="0.18" stroke-linejoin="round">$400,000</text>
<text transform="translate(64.40 875.30) scale(0.7650 1)" font-size="9.3" text-anchor="end" fill="#3c3c3c" stroke="#3c3c3c" stroke-width="0.18" stroke-linejoin="round">$300,000</text>
<text transform="translate(64.40 907.30) scale(0.7650 1)" font-size="9.3" text-anchor="end" fill="#3c3c3c" stroke="#3c3c3c" stroke-width="0.18" stroke-linejoin="round">$200,000</text>
<text transform="translate(64.40 938.30) scale(0.7650 1)" font-size="9.3" text-anchor="end" fill="#3c3c3c" stroke="#3c3c3c" stroke-width="0.18" stroke-linejoin="round">$100,000</text>
<text transform="translate(74.60 951.40) scale(0.7650 1)" font-size="9.3" text-anchor="middle" fill="#3c3c3c" stroke="#3c3c3c" stroke-width="0.18" stroke-linejoin="round">1-2015</text>
<text transform="translate(133.60 951.40) scale(0.7650 1)" font-size="9.3" text-anchor="middle" fill="#3c3c3c" stroke="#3c3c3c" stroke-width="0.18" stroke-linejoin="round">1-2017</text>
<text transform="translate(193.60 951.40) scale(0.7650 1)" font-size="9.3" text-anchor="middle" fill="#3c3c3c" stroke="#3c3c3c" stroke-width="0.18" stroke-linejoin="round">1-2019</text>
<text transform="translate(253.60 951.40) scale(0.7650 1)" font-size="9.3" text-anchor="middle" fill="#3c3c3c" stroke="#3c3c3c" stroke-width="0.18" stroke-linejoin="round">1-2021</text>
<text transform="translate(312.60 951.40) scale(0.7650 1)" font-size="9.3" text-anchor="middle" fill="#3c3c3c" stroke="#3c3c3c" stroke-width="0.18" stroke-linejoin="round">1-2023</text>
<text transform="translate(371.60 951.40) scale(0.7650 1)" font-size="9.3" text-anchor="middle" fill="#3c3c3c" stroke="#3c3c3c" stroke-width="0.18" stroke-linejoin="round">1-2025</text>
<path d="M74.6 912.1L104.1 903.7L124.5 898.5L133.5 897.2L163.4 891.4L177.1 888.2L189.0 888.2L193.2 887.6L214.3 885.0L218.6 883.5L223.5 883.3L230.4 881.8L235.8 881.8L241.2 879.2L249.8 876.4L253.2 874.7L259.4 872.5L265.9 868.4L274.5 864.6L282.9 860.3L290.6 855.1L296.0 850.8L304.6 845.9L312.5 841.6L317.5 840.5L323.9 839.2L330.4 837.9L336.8 836.8L342.4 835.5L348.6 832.3L356.1 830.8L362.6 829.5L369.0 828.0L374.4 827.0L377.0 826.7" fill="none" stroke="#3dc4bb" stroke-width="1.9" stroke-linejoin="round" stroke-linecap="round"/>
<path d="M74.6 905.0L79.3 904.3L84.7 900.7L92.2 899.8L99.8 895.7L104.1 895.3L111.6 892.9L115.9 892.9L122.3 891.0L133.5 888.8L141.7 888.0L147.0 885.0L154.6 883.3L163.4 881.8L169.6 879.2L173.9 878.1L179.3 875.7L193.2 875.7L199.7 875.7L208.3 874.2L214.7 873.8L218.6 872.5L223.5 871.9L230.4 869.9L235.8 869.3L240.1 867.1L246.5 862.4L253.2 857.5L256.2 856.4L262.7 852.1L268.0 847.4L271.3 846.7L275.6 844.1L278.8 840.5L282.9 838.8L288.4 834.0L292.7 828.5L295.5 825.4L298.1 825.0L300.3 822.2L302.4 822.2L305.6 819.4L308.4 819.0L312.5 811.9L315.3 813.4L319.6 814.7L322.4 815.8L325.0 814.5L328.2 814.1L330.4 813.0L333.6 812.6L337.9 809.8L342.4 809.5L345.0 808.3L351.8 799.0L358.9 792.1L362.6 793.6L365.8 792.1L369.0 789.8L371.8 788.9L374.4 788.7L377.0 789.3" fill="none" stroke="#0d4d7c" stroke-width="1.9" stroke-linejoin="round" stroke-linecap="round"/>
<path d="M450.40 777.50H756.90M450.40 810.50H756.90M450.40 841.50H756.90M450.40 872.50H756.90M450.40 904.50H756.90M450.40 935.50H756.90M454.50 777.90V938.60M484.50 777.90V938.60M513.50 777.90V938.60M543.50 777.90V938.60M573.50 777.90V938.60M603.50 777.90V938.60M633.50 777.90V938.60M662.50 777.90V938.60M692.50 777.90V938.60M722.50 777.90V938.60M751.50 777.90V938.60M756.90 777.90V935.60" fill="none" stroke="#d7d7d7" stroke-width="1"/>
<text transform="translate(413.40 743.20) scale(0.8086 1)" font-size="15.3" font-weight="700" fill="#111" stroke="#111" stroke-width="0.3" stroke-linejoin="round">Median Sales Price - Townhouse/Condo</text>
<text transform="translate(413.30 755.00) scale(0.8067 1)" font-size="11.5" fill="#111" stroke="#111" stroke-width="0.2" stroke-linejoin="round">Rolling 12-Month Calculation</text>
<text transform="translate(737.10 758.90) scale(0.8195 1)" font-size="9.8" text-anchor="end" fill="#666" stroke="#666" stroke-width="0.25" stroke-linejoin="round">All RAPB + GFLR</text>
<text transform="translate(737.10 769.60) scale(0.8455 1)" font-size="9.8" text-anchor="end" fill="#666" stroke="#666" stroke-width="0.25" stroke-linejoin="round">West Palm Beach</text>
<path d="M741.9 755.9H756.7" stroke="#3dc4bb" stroke-width="1.8"/>
<path d="M741.9 766.8H756.7" stroke="#0d4d7c" stroke-width="1.8"/>
<text transform="translate(444.10 780.30) scale(0.7650 1)" font-size="9.3" text-anchor="end" fill="#3c3c3c" stroke="#3c3c3c" stroke-width="0.18" stroke-linejoin="round">$500,000</text>
<text transform="translate(444.10 813.30) scale(0.7650 1)" font-size="9.3" text-anchor="end" fill="#3c3c3c" stroke="#3c3c3c" stroke-width="0.18" stroke-linejoin="round">$400,000</text>
<text transform="translate(444.10 844.30) scale(0.7650 1)" font-size="9.3" text-anchor="end" fill="#3c3c3c" stroke="#3c3c3c" stroke-width="0.18" stroke-linejoin="round">$300,000</text>
<text transform="translate(444.10 875.30) scale(0.7650 1)" font-size="9.3" text-anchor="end" fill="#3c3c3c" stroke="#3c3c3c" stroke-width="0.18" stroke-linejoin="round">$200,000</text>
<text transform="translate(444.10 907.30) scale(0.7650 1)" font-size="9.3" text-anchor="end" fill="#3c3c3c" stroke="#3c3c3c" stroke-width="0.18" stroke-linejoin="round">$100,000</text>
<text transform="translate(444.10 938.30) scale(0.7650 1)" font-size="9.3" text-anchor="end" fill="#3c3c3c" stroke="#3c3c3c" stroke-width="0.18" stroke-linejoin="round">$0</text>
<text transform="translate(454.60 951.40) scale(0.7650 1)" font-size="9.3" text-anchor="middle" fill="#3c3c3c" stroke="#3c3c3c" stroke-width="0.18" stroke-linejoin="round">1-2015</text>
<text transform="translate(513.60 951.40) scale(0.7650 1)" font-size="9.3" text-anchor="middle" fill="#3c3c3c" stroke="#3c3c3c" stroke-width="0.18" stroke-linejoin="round">1-2017</text>
<text transform="translate(573.60 951.40) scale(0.7650 1)" font-size="9.3" text-anchor="middle" fill="#3c3c3c" stroke="#3c3c3c" stroke-width="0.18" stroke-linejoin="round">1-2019</text>
<text transform="translate(633.60 951.40) scale(0.7650 1)" font-size="9.3" text-anchor="middle" fill="#3c3c3c" stroke="#3c3c3c" stroke-width="0.18" stroke-linejoin="round">1-2021</text>
<text transform="translate(692.60 951.40) scale(0.7650 1)" font-size="9.3" text-anchor="middle" fill="#3c3c3c" stroke="#3c3c3c" stroke-width="0.18" stroke-linejoin="round">1-2023</text>
<text transform="translate(751.60 951.40) scale(0.7650 1)" font-size="9.3" text-anchor="middle" fill="#3c3c3c" stroke="#3c3c3c" stroke-width="0.18" stroke-linejoin="round">1-2025</text>
<path d="M454.3 880.6L483.8 872.2L504.2 867.0L513.2 865.7L543.1 859.9L556.8 856.7L568.7 856.7L572.9 856.1L594.0 853.5L598.3 852.0L603.2 851.8L610.1 850.2L615.5 850.2L620.9 847.7L629.5 844.9L632.9 843.2L639.1 841.0L645.6 836.9L654.2 833.1L662.6 828.8L670.3 823.6L675.7 819.2L684.3 814.4L692.2 810.1L697.2 809.0L703.6 807.7L710.1 806.4L716.5 805.2L722.1 804.0L728.3 800.8L735.8 799.2L742.3 798.0L748.7 796.5L754.1 795.5L756.7 795.2" fill="none" stroke="#3dc4bb" stroke-width="1.9" stroke-linejoin="round" stroke-linecap="round"/>
<path d="M454.2 910.3L457.2 910.1L461.5 908.6L472.2 908.2L479.8 906.7L483.6 906.5L492.7 906.0L500.2 903.2L513.5 900.7L519.5 900.0L524.9 898.9L533.5 898.9L543.4 897.4L546.4 897.4L551.8 895.7L557.1 895.7L569.0 894.0L573.0 894.2L579.7 893.6L590.4 892.7L596.4 893.6L603.1 893.4L609.3 892.7L615.8 891.4L622.2 890.4L626.5 888.2L632.8 886.3L639.4 883.5L645.9 881.8L654.5 879.6L659.8 877.5L662.6 876.8L667.4 875.3L672.7 872.1L677.0 869.3L681.3 867.8L685.6 865.9L688.9 865.2L692.3 863.9L697.5 861.6L703.9 861.6L708.2 859.2L712.5 856.8L715.7 856.4L718.9 855.3L722.2 854.5L725.4 853.6L728.6 853.4L731.8 852.1L734.4 852.7L736.8 852.1L739.4 853.4L742.6 853.8L748.0 853.8L751.6 855.1L756.8 855.3" fill="none" stroke="#0d4d7c" stroke-width="1.9" stroke-linejoin="round" stroke-linecap="round"/>
<text transform="translate(33.20 970.60) scale(1.0003 1)" font-size="8.5" fill="#707070" stroke="#707070" stroke-width="0.15" stroke-linejoin="round">A rolling 12-month calculation represents the current month and the 11 months prior in a single data point. If no activity occurred during a month, the line extends to the next available data point.</text>
<text transform="translate(768.00 999.00) scale(0.9979 1)" font-size="7.5" text-anchor="end" fill="#5c5c5c" stroke="#5c5c5c" stroke-width="0.12" stroke-linejoin="round">Current as of April 16, 2025. Data courtesy of BeachesMLS, a subsidiary of Broward, Palm Beaches &amp; St. Lucie Realtors®. | Report © 2025 ShowingTime Plus, LLC.</text>
</svg>
</body>
</html>
